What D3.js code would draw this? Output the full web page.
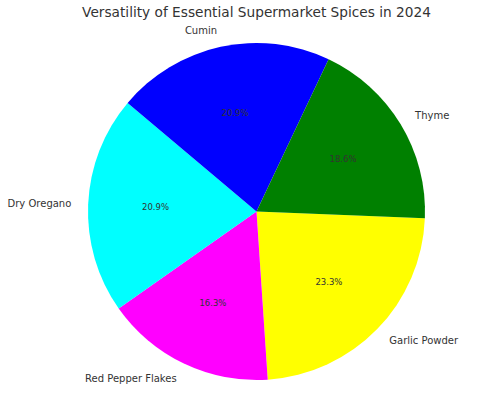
<!DOCTYPE html>
<html lang="en">
<head>
    <meta charset="UTF-8">
    <title>Spices pie</title>
    <script src="https://d3js.org/d3.v7.min.js"></script>
    <style>
        body { margin: 0; background: #fff; }
        svg text { font-family: "DejaVu Sans", sans-serif; fill: #333; }
    </style>
</head>
<body>
    <svg id="chart" width="500" height="405"></svg>
    <script>
        // Data (clockwise from just below 3 o'clock)
        var spices = ["Garlic Powder", "Red Pepper Flakes", "Dry Oregano", "Cumin", "Thyme"];
        var shares = [23.3, 16.3, 20.9, 20.9, 18.6];
        var colors = ["#ffff00", "#ff00ff", "#00ffff", "#0000ff", "#008000"];

        var svg = d3.select("#chart"),
            cx = 256.5,
            cy = 211.5,
            radius = 168.5;

        svg.append("text")
            .attr("x", cx)
            .attr("y", 17)
            .attr("text-anchor", "middle")
            .style("font-size", "13.7px")
            .text("Versatility of Essential Supermarket Spices in 2024");

        var start = (92.3 * Math.PI) / 180;
        var pie = d3.pie()
            .sort(null)
            .startAngle(start)
            .endAngle(start + 2 * Math.PI);

        var arcs = pie(shares);
        var arc = d3.arc().innerRadius(0).outerRadius(radius);

        var g = svg.append("g").attr("transform", "translate(" + cx + "," + cy + ")");

        g.selectAll("path")
            .data(arcs)
            .join("path")
            .attr("d", arc)
            .attr("fill", function (d, i) { return colors[i]; });

        function point(d, r) {
            var a = (d.startAngle + d.endAngle) / 2;
            return [r * Math.sin(a), -r * Math.cos(a)];
        }

        // category labels at 1.1 r
        g.selectAll("text.label")
            .data(arcs)
            .join("text")
            .attr("class", "label")
            .attr("x", function (d) { return point(d, radius * 1.1)[0]; })
            .attr("y", function (d) { return point(d, radius * 1.1)[1]; })
            .attr("dy", "0.35em")
            .attr("text-anchor", function (d) { return point(d, 1)[0] < 0 ? "end" : "start"; })
            .style("font-size", "10px")
            .text(function (d, i) { return spices[i]; });

        // percentages at 0.6 r
        g.selectAll("text.pct")
            .data(arcs)
            .join("text")
            .attr("class", "pct")
            .attr("x", function (d) { return point(d, radius * 0.6)[0]; })
            .attr("y", function (d) { return point(d, radius * 0.6)[1]; })
            .attr("dy", "0.35em")
            .attr("text-anchor", "middle")
            .style("font-size", "8.5px")
            .text(function (d) { return d.value.toFixed(1) + "%"; });
    </script>
</body>
</html>
